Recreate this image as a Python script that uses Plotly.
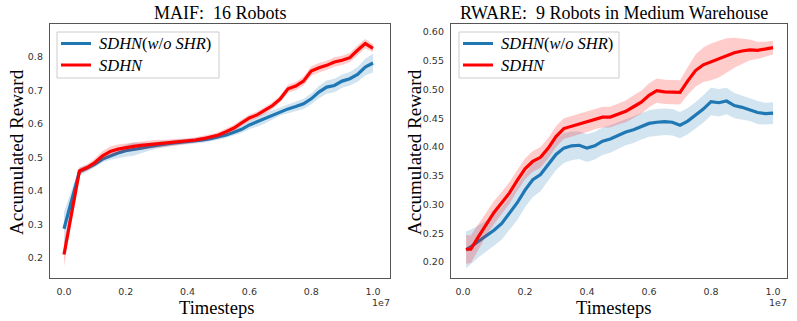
import plotly.graph_objects as go

# ---------------- data ----------------
# MAIF: 16 Robots  (timesteps in units of 1e7)
maif_t = [0.0, 0.05, 0.075, 0.1, 0.125, 0.15, 0.175, 0.2, 0.225, 0.25, 0.275, 0.3, 0.325, 0.35,
          0.375, 0.4, 0.425, 0.45, 0.475, 0.5, 0.525, 0.55, 0.575, 0.6, 0.625, 0.65, 0.675, 0.7,
          0.725, 0.75, 0.775, 0.8, 0.825, 0.85, 0.875, 0.9, 0.925, 0.95, 0.975, 1.0]
maif_wo = [0.287, 0.458, 0.468, 0.48, 0.495, 0.505, 0.513, 0.52, 0.525, 0.528, 0.532, 0.537, 0.54, 0.543,
           0.545, 0.548, 0.55, 0.552, 0.556, 0.561, 0.567, 0.575, 0.584, 0.597, 0.607, 0.617, 0.627, 0.637,
           0.645, 0.652, 0.66, 0.675, 0.695, 0.71, 0.715, 0.728, 0.735, 0.748, 0.77, 0.782]
maif_wo_std = [0.05, 0.012, 0.01, 0.009, 0.01, 0.012, 0.015, 0.018, 0.02, 0.016, 0.012, 0.01, 0.01, 0.009,
               0.009, 0.008, 0.008, 0.008, 0.008, 0.008, 0.008, 0.009, 0.01, 0.012, 0.015, 0.016, 0.014, 0.012,
               0.012, 0.013, 0.015, 0.016, 0.018, 0.02, 0.02, 0.02, 0.02, 0.022, 0.025, 0.028]
maif_sdhn = [0.21, 0.46, 0.47, 0.485, 0.505, 0.518, 0.525, 0.53, 0.533, 0.536, 0.538, 0.541, 0.542, 0.544,
             0.546, 0.549, 0.552, 0.556, 0.561, 0.567, 0.577, 0.588, 0.603, 0.618, 0.627, 0.64, 0.655, 0.675,
             0.705, 0.713, 0.728, 0.758, 0.768, 0.775, 0.785, 0.79, 0.798, 0.82, 0.84, 0.826]
maif_sdhn_std = [0.035, 0.01, 0.01, 0.012, 0.014, 0.015, 0.014, 0.012, 0.012, 0.012, 0.012, 0.012, 0.011, 0.01,
                 0.009, 0.008, 0.008, 0.008, 0.008, 0.009, 0.01, 0.01, 0.01, 0.01, 0.01, 0.01, 0.01, 0.01,
                 0.012, 0.012, 0.013, 0.014, 0.014, 0.014, 0.014, 0.014, 0.014, 0.015, 0.014, 0.012]

# RWARE: 9 Robots in Medium Warehouse
rw_t = [0.01, 0.025, 0.05, 0.075, 0.1, 0.125, 0.15, 0.175, 0.2, 0.225, 0.25, 0.275, 0.3, 0.325, 0.35,
        0.375, 0.4, 0.425, 0.45, 0.475, 0.5, 0.525, 0.55, 0.575, 0.6, 0.625, 0.65, 0.675, 0.7,
        0.725, 0.75, 0.775, 0.8, 0.825, 0.85, 0.875, 0.9, 0.925, 0.95, 0.975, 1.0]
rw_wo = [0.221, 0.226, 0.236, 0.245, 0.255, 0.267, 0.284, 0.303, 0.325, 0.343, 0.352, 0.37, 0.387, 0.398, 0.402,
         0.403, 0.398, 0.402, 0.41, 0.414, 0.42, 0.426, 0.43, 0.436, 0.441, 0.443, 0.444, 0.443, 0.438,
         0.445, 0.455, 0.466, 0.479, 0.477, 0.48, 0.472, 0.469, 0.465, 0.46, 0.458, 0.459]
rw_wo_std = [0.032, 0.03, 0.028, 0.027, 0.027, 0.028, 0.029, 0.03, 0.03, 0.03, 0.029, 0.028, 0.027, 0.026, 0.025,
             0.024, 0.024, 0.024, 0.024, 0.024, 0.023, 0.023, 0.023, 0.023, 0.023, 0.023, 0.023, 0.023, 0.023,
             0.023, 0.023, 0.024, 0.024, 0.024, 0.023, 0.022, 0.021, 0.02, 0.02, 0.019, 0.019]
rw_sdhn = [0.222, 0.222, 0.244, 0.265, 0.286, 0.303, 0.32, 0.342, 0.362, 0.375, 0.382, 0.398, 0.418, 0.432, 0.436,
           0.44, 0.444, 0.449, 0.452, 0.452, 0.457, 0.462, 0.47, 0.478, 0.49, 0.498, 0.496, 0.495, 0.495,
           0.515, 0.533, 0.543, 0.548, 0.553, 0.559, 0.564, 0.567, 0.569, 0.568, 0.57, 0.573]
rw_sdhn_std = [0.025, 0.024, 0.022, 0.02, 0.02, 0.019, 0.019, 0.018, 0.018, 0.018, 0.018, 0.018, 0.018, 0.018, 0.018,
               0.018, 0.018, 0.018, 0.018, 0.018, 0.018, 0.019, 0.02, 0.02, 0.021, 0.021, 0.021, 0.021, 0.021,
               0.024, 0.028, 0.03, 0.032, 0.032, 0.03, 0.026, 0.022, 0.018, 0.015, 0.013, 0.012]

x_ticks = [0.0, 0.2, 0.4, 0.6, 0.8, 1.0]
x_ticktext = ["0.0", "0.2", "0.4", "0.6", "0.8", "1.0"]
maif_yticks = [0.2, 0.3, 0.4, 0.5, 0.6, 0.7, 0.8]
rw_yticks = [0.20, 0.25, 0.30, 0.35, 0.40, 0.45, 0.50, 0.55, 0.60]

titles = ["MAIF:\u00a0\u00a016 Robots", "RWARE:\u00a0\u00a09 Robots in Medium Warehouse"]
name_wo = "<i>SDHN</i>(<i>w</i>/<i>o\u00a0SHR</i>)"
name_sdhn = "<i>SDHN</i>"

BLUE = "#1f77b4"
RED = "#ff0000"
BLUE_FILL = "rgba(31,119,180,0.2)"
RED_FILL = "rgba(255,0,0,0.2)"

fig = go.Figure()


def add_series(t, mean, std, color, fill, name, xa, ya):
    lo = [m - s for m, s in zip(mean, std)]
    hi = [m + s for m, s in zip(mean, std)]
    fig.add_trace(go.Scatter(x=t + t[::-1], y=hi + lo[::-1], fill="toself", fillcolor=fill,
                             line=dict(width=0), mode="lines", hoverinfo="skip",
                             showlegend=False, xaxis=xa, yaxis=ya))
    fig.add_trace(go.Scatter(x=t, y=mean, mode="lines", line=dict(color=color, width=3.2),
                             name=name, showlegend=False, xaxis=xa, yaxis=ya))


add_series(maif_t, maif_wo, maif_wo_std, BLUE, BLUE_FILL, name_wo, "x", "y")
add_series(maif_t, maif_sdhn, maif_sdhn_std, RED, RED_FILL, name_sdhn, "x", "y")
add_series(rw_t, rw_wo, rw_wo_std, BLUE, BLUE_FILL, name_wo, "x2", "y2")
add_series(rw_t, rw_sdhn, rw_sdhn_std, RED, RED_FILL, name_sdhn, "x2", "y2")

W, H = 797, 321
tickfont = dict(family="DejaVu Sans", size=9.5, color="#333333")
axis_common = dict(showgrid=False, zeroline=False, showline=True, linecolor="#555555", linewidth=1.3,
                   mirror=True, ticks="", tickfont=tickfont)

fig.update_layout(
    width=W, height=H, margin=dict(l=0, r=0, t=0, b=0),
    paper_bgcolor="white", plot_bgcolor="white", showlegend=False,
    xaxis=dict(domain=[50 / W, 390 / W], range=[-0.0453, 1.055], tickvals=x_ticks, ticktext=x_ticktext,
               anchor="y", ticklabelstandoff=4, **axis_common),
    yaxis=dict(domain=[1 - 278 / H, 1 - 24 / H], range=[0.140, 0.8985], tickvals=maif_yticks,
               tickformat=".1f", anchor="x", ticklabelstandoff=4, **axis_common),
    xaxis2=dict(domain=[451 / W, 787 / W], range=[-0.0387, 1.045], tickvals=x_ticks, ticktext=x_ticktext,
                anchor="y2", ticklabelstandoff=4, **axis_common),
    yaxis2=dict(domain=[1 - 278 / H, 1 - 24 / H], range=[0.172, 0.614], tickvals=rw_yticks,
                tickformat=".2f", anchor="x2", ticklabelstandoff=4, **axis_common),
)

serif = "Liberation Serif"
ann = []
shapes = []
# titles
ann.append(dict(text=titles[0], x=220.5 / W, y=1 - 13 / H, font=dict(family=serif, size=18, color="#000")))
ann.append(dict(text=titles[1], x=614 / W, y=1 - 13 / H, font=dict(family=serif, size=18, color="#000")))
# axis titles
for xc in (216, 613):
    ann.append(dict(text="Timesteps", x=xc / W, y=1 - 308 / H, font=dict(family=serif, size=18.5, color="#000")))
for xc in (16, 414):
    ann.append(dict(text="Accumulated Reward", x=xc / W, y=1 - 152 / H, textangle=-90,
                    font=dict(family=serif, size=19, color="#000")))
# offset labels
for xc in (380.5, 778):
    ann.append(dict(text="1e7", x=xc / W, y=1 - 302 / H, font=dict(family="DejaVu Sans", size=9.5, color="#333333")))

# legends (drawn as boxes + sample lines + labels)
legend_boxes = [(57, 219), (459, 619)]
for (x0, x1) in legend_boxes:
    shapes.append(dict(type="rect", xref="paper", yref="paper", x0=x0 / W, x1=x1 / W,
                       y0=1 - 78 / H, y1=1 - 32 / H, line=dict(color="#cccccc", width=1),
                       fillcolor="rgba(255,255,255,0.8)", layer="above"))
    for name, color, yc in ((name_wo, BLUE, 43.5), (name_sdhn, RED, 65)):
        shapes.append(dict(type="line", xref="paper", yref="paper", x0=(x0 + 4) / W, x1=(x0 + 34) / W,
                           y0=1 - yc / H, y1=1 - yc / H, line=dict(color=color, width=3), layer="above"))
        ann.append(dict(text=name, x=(x0 + 40) / W, y=1 - yc / H, xanchor="left",
                        font=dict(family=serif, size=16.5, color="#000")))

for a in ann:
    a.setdefault("xanchor", "center")
    a.update(xref="paper", yref="paper", showarrow=False, yanchor="middle")
fig.update_layout(annotations=ann, shapes=shapes)

fig.write_html("out.html", post_script="document.body.style.margin='0';",
               config={"displayModeBar": False})
